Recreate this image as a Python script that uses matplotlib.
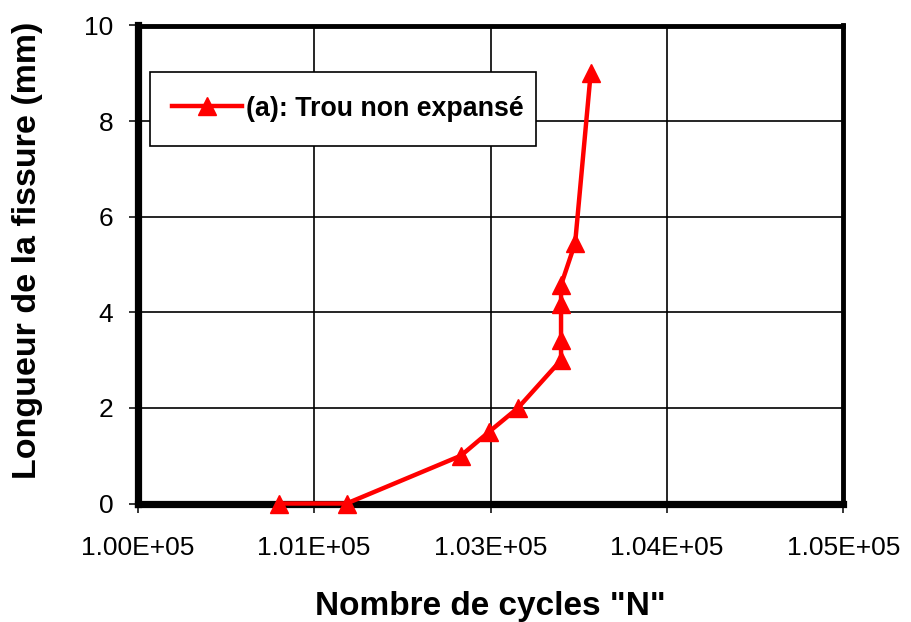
import matplotlib
matplotlib.use("Agg")
import matplotlib.pyplot as plt
from matplotlib.patches import Rectangle

plt.rcParams['font.family'] = ['Liberation Sans', 'DejaVu Sans']

cycles = [101000, 101480, 102290, 102490, 102695, 103000, 103000, 103000, 103000, 103100, 103210]
crack_mm = [0.0, 0.0, 1.0, 1.5, 2.0, 3.0, 3.42, 4.18, 4.57, 5.45, 9.0]
x_ticks = [100000, 101250, 102500, 103750, 105000]
x_tick_labels = ["1.00E+05", "1.01E+05", "1.03E+05", "1.04E+05", "1.05E+05"]
y_ticks = [0, 2, 4, 6, 8, 10]
series_label = "(a): Trou non expansé"

W, H = 911, 622
fig = plt.figure(figsize=(W/100, H/100), dpi=100)
L, R, T, B = 137.8, 843.2, 25.5, 503.5
ax = fig.add_axes([L/W, 1-B/H, (R-L)/W, (B-T)/H])

ax.plot(cycles, crack_mm, color='#ff0000', lw=3.2, marker='^', markersize=13,
        label=series_label, zorder=5, clip_on=False)

ax.set_xlim(100000, 105000)
ax.set_ylim(0, 10)
ax.set_xticks(x_ticks)
ax.set_xticklabels(x_tick_labels)
ax.set_yticks(y_ticks)
ax.grid(True, color='black', lw=1.2)
ax.set_axisbelow(True)
ax.tick_params(direction='out', length=6.5, width=1.1, colors='black', labelsize=19)
ax.tick_params(axis='x', pad=17)
ax.tick_params(axis='y', pad=11)

for side in ['top', 'right']:
    ax.spines[side].set_linewidth(3.5)
for side in ['left', 'bottom']:
    ax.spines[side].set_linewidth(5.2)

fig.text((L+R)/2/W, 1-614.5/H, 'Nombre de cycles "N"', fontsize=24, fontweight='bold',
         ha='center', va='baseline')
fig.text(27.5/W, 1-250/H, 'Longueur de la fissure (mm)', fontsize=24.5, fontweight='bold',
         ha='center', va='center', rotation=90)

# legend box
box = Rectangle((150/W, 1-146/H), (536-150)/W, (146-72)/H,
                transform=fig.transFigure, facecolor='white',
                edgecolor='black', lw=1.2, zorder=6, clip_on=False)
ax.add_patch(box)
leg = ax.legend(loc='center left', bbox_to_anchor=(172/W, 1-108.5/H),
                bbox_transform=fig.transFigure,
                prop={'weight': 'bold', 'size': 19.3}, frameon=False,
                borderpad=0, handlelength=2.6, handletextpad=0.15,
                markerscale=0.95, borderaxespad=0)
leg.set_zorder(7)

fig.savefig('out.png', dpi=100)
